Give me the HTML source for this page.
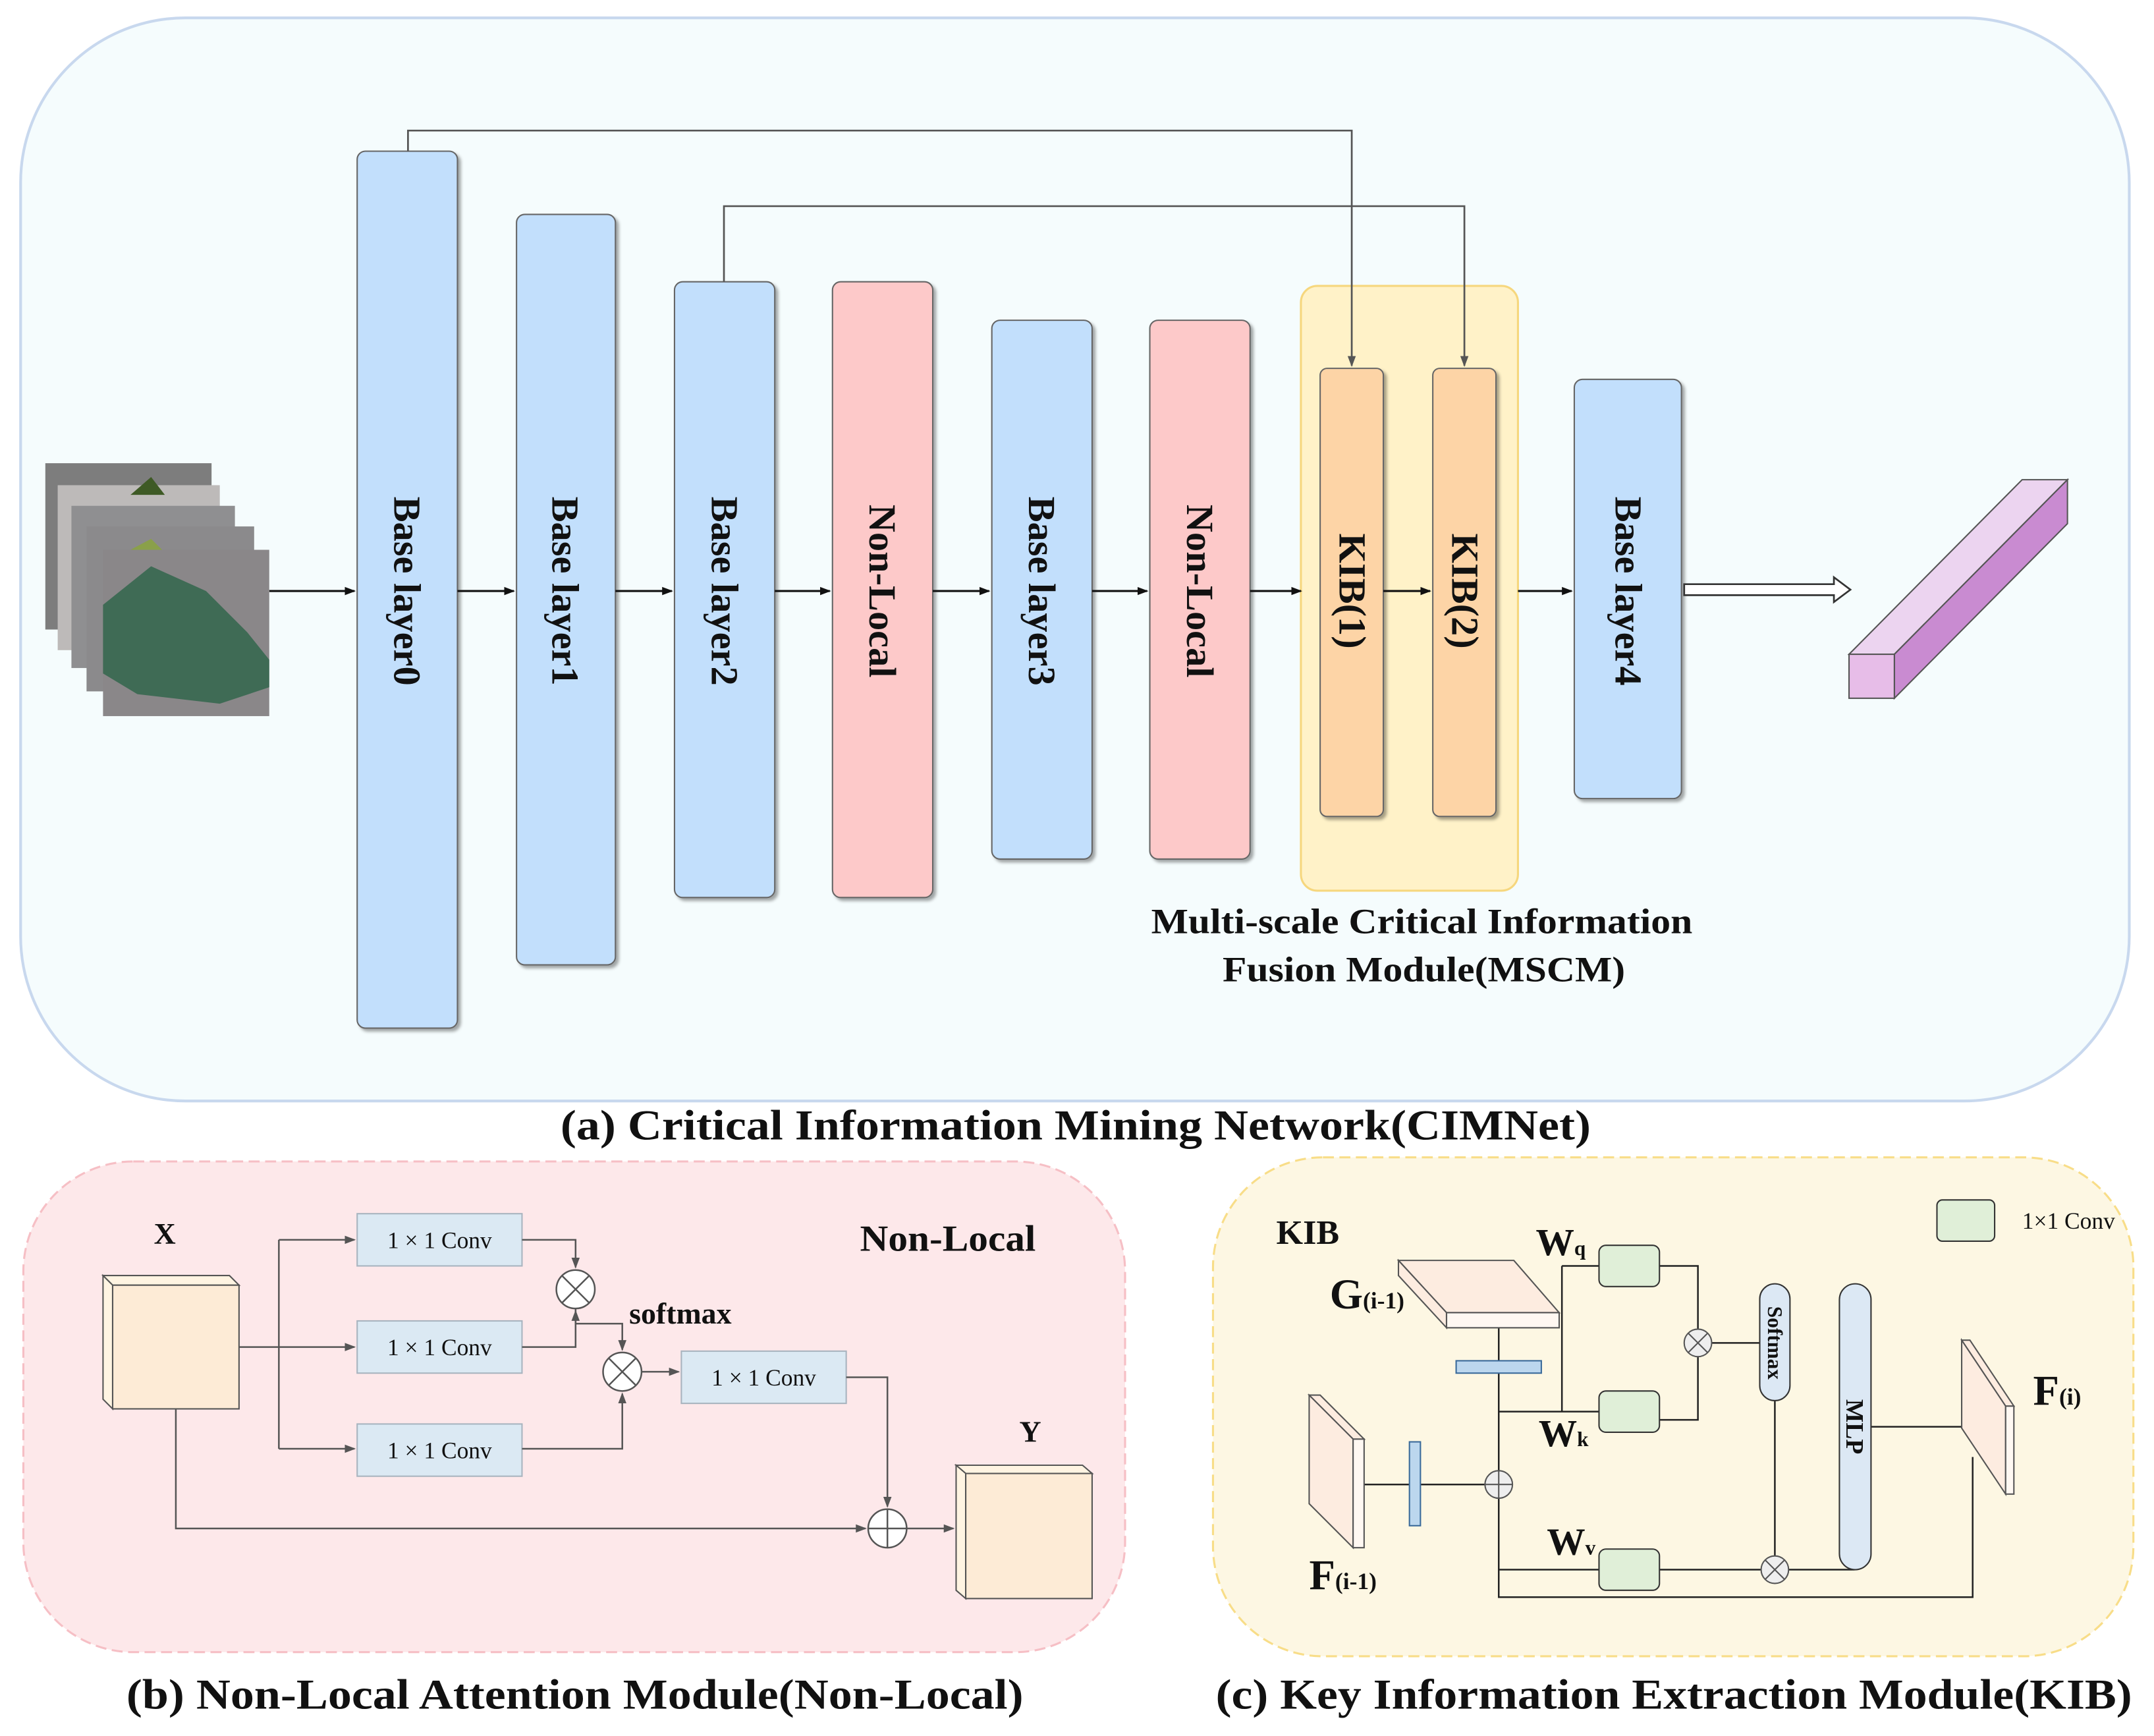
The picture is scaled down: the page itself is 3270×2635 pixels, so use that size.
<!DOCTYPE html>
<html><head><meta charset="utf-8"><style>
html,body{margin:0;padding:0;background:#fff}
svg{display:block}
text{font-family:"Liberation Serif",serif;font-weight:bold;fill:#111}
</style></head><body>
<svg width="3270" height="2635" viewBox="0 0 1568 1263" preserveAspectRatio="none" xmlns="http://www.w3.org/2000/svg">
<defs>
<marker id="a" markerWidth="8" markerHeight="8" refX="7" refY="4" orient="auto" markerUnits="userSpaceOnUse"><path d="M0,1 L8,4 L0,7 Z" fill="#111"/></marker>
<marker id="g" markerWidth="8" markerHeight="8" refX="7" refY="4" orient="auto" markerUnits="userSpaceOnUse"><path d="M0,1 L8,4 L0,7 Z" fill="#555"/></marker>
<filter id="sh"><feDropShadow dx="2" dy="2" stdDeviation="1.2" flood-color="#000" flood-opacity="0.35"/></filter>
</defs>
<!-- Panel a -->
<rect x="15" y="13" width="1535" height="788" rx="120" fill="#f5fcfd" stroke="#c8d8ee" stroke-width="2"/>
<rect x="947" y="208" width="158" height="440" rx="12" fill="#fff2c8" stroke="#f6d77e" stroke-width="1.5"/>
<g filter="url(#sh)" stroke="#666" stroke-width="1">
<rect x="260" y="110" width="73" height="638" rx="6" fill="#c2dffc"/>
<rect x="376" y="156" width="72" height="546" rx="6" fill="#c2dffc"/>
<rect x="491" y="205" width="73" height="448" rx="6" fill="#c2dffc"/>
<rect x="606" y="205" width="73" height="448" rx="6" fill="#fdc9c9"/>
<rect x="722" y="233" width="73" height="392" rx="6" fill="#c2dffc"/>
<rect x="837" y="233" width="73" height="392" rx="6" fill="#fdc9c9"/>
<rect x="961" y="268" width="46" height="326" rx="5" fill="#fdd4a6"/>
<rect x="1043" y="268" width="46" height="326" rx="5" fill="#fdd4a6"/>
<rect x="1146" y="276" width="78" height="305" rx="6" fill="#c2dffc"/>
</g>
<g font-size="28">
<text transform="translate(287,430) rotate(90)" text-anchor="middle">Base layer0</text>
<text transform="translate(402,430) rotate(90)" text-anchor="middle">Base layer1</text>
<text transform="translate(518,430) rotate(90)" text-anchor="middle">Base layer2</text>
<text transform="translate(633,430) rotate(90)" text-anchor="middle">Non-Local</text>
<text transform="translate(749,430) rotate(90)" text-anchor="middle">Base layer3</text>
<text transform="translate(864,430) rotate(90)" text-anchor="middle">Non-Local</text>
<text transform="translate(975,430) rotate(90)" text-anchor="middle">KIB(1)</text>
<text transform="translate(1057,430) rotate(90)" text-anchor="middle">KIB(2)</text>
<text transform="translate(1176,430) rotate(90)" text-anchor="middle">Base layer4</text>
</g>
<g fill="none" stroke="#555" stroke-width="1.3">
<path d="M297,110 V95 H984 V266" marker-end="url(#g)"/>
<path d="M527,205 V150 H1066 V266" marker-end="url(#g)"/>
</g>
<g stroke="#111" stroke-width="1.5" marker-end="url(#a)">
<line x1="196" y1="430" x2="258" y2="430"/>
<line x1="333" y1="430" x2="374" y2="430"/>
<line x1="448" y1="430" x2="489" y2="430"/>
<line x1="564" y1="430" x2="604" y2="430"/>
<line x1="679" y1="430" x2="720" y2="430"/>
<line x1="795" y1="430" x2="835" y2="430"/>
<line x1="910" y1="430" x2="947" y2="430"/>
<line x1="1007" y1="430" x2="1041" y2="430"/>
<line x1="1105" y1="430" x2="1144" y2="430"/>
</g>
<rect x="33" y="337" width="121" height="121" fill="#7d7d7d"/>
<rect x="42" y="353" width="118" height="120" fill="#bdbab9"/>
<path d="M95,360 L110,347 L120,360 Z" fill="#3e5a25"/>
<rect x="52" y="368" width="119" height="118" fill="#8f8f91"/>
<rect x="63" y="383" width="122" height="120" fill="#8b8a8c"/>
<path d="M95,400 L110,392 L120,402 Z" fill="#8aa04a"/>
<rect x="75" y="400" width="121" height="121" fill="#8a8789"/>
<path d="M75,440 L110,412 L150,430 L180,460 L196,480 L196,500 L160,512 L100,505 L75,490 Z" fill="#3f6b55"/>
<path d="M1226,425 H1335 V420 L1347,429 L1335,438 V433 H1226 Z" fill="#fff" stroke="#333" stroke-width="1.3"/>
<polygon points="1346,476 1379,476 1505,349 1472,349" fill="#ecd4f0" stroke="#555" stroke-width="1"/>
<polygon points="1379,476 1379,508 1505,381 1505,349" fill="#c98bd1" stroke="#555" stroke-width="1"/>
<rect x="1346" y="476" width="33" height="32" fill="#e7bde8" stroke="#555" stroke-width="1"/>
<text x="838" y="679" font-size="26" textLength="394" lengthAdjust="spacingAndGlyphs">Multi-scale Critical Information</text>
<text x="890" y="714" font-size="26" textLength="293" lengthAdjust="spacingAndGlyphs">Fusion Module(MSCM)</text>
<text x="408" y="829" font-size="31" textLength="750" lengthAdjust="spacingAndGlyphs">(a) Critical Information Mining Network(CIMNet)</text>

<!-- Panel b -->
<rect x="17" y="845" width="802" height="357" rx="80" fill="#fde8ea" stroke="#f6bfc5" stroke-width="1.5" stroke-dasharray="8,4"/>
<text x="120" y="905" font-size="22" text-anchor="middle">X</text>
<text x="750" y="1049" font-size="22" text-anchor="middle">Y</text>
<text x="626" y="910" font-size="27" textLength="128" lengthAdjust="spacingAndGlyphs">Non-Local</text>
<g stroke="#555" stroke-width="1">
<polygon points="75,928 167,928 174,935 82,935" fill="#fff4e2"/>
<polygon points="75,928 82,935 82,1025 75,1018" fill="#fff4e2"/>
<rect x="82" y="935" width="92" height="90" fill="#fdebd6"/>
<polygon points="696,1066 788,1066 795,1072 703,1072" fill="#fff4e2"/>
<polygon points="696,1066 703,1072 703,1163 696,1157" fill="#fff4e2"/>
<rect x="703" y="1072" width="92" height="91" fill="#fdebd6"/>
</g>
<g fill="#dbe9f3" stroke="#a8b4bf" stroke-width="1">
<rect x="260" y="883" width="120" height="38"/>
<rect x="260" y="961" width="120" height="38"/>
<rect x="260" y="1036" width="120" height="38"/>
<rect x="496" y="983" width="120" height="38"/>
</g>
<g font-size="17" text-anchor="middle">
<text x="320" y="908" style="font-weight:normal">1 × 1 Conv</text>
<text x="320" y="986" style="font-weight:normal">1 × 1 Conv</text>
<text x="320" y="1061" style="font-weight:normal">1 × 1 Conv</text>
<text x="556" y="1008" style="font-weight:normal">1 × 1 Conv</text>
</g>
<text x="458" y="963" font-size="22">softmax</text>
<g fill="none" stroke="#555" stroke-width="1.2">
<path d="M174,980 H203"/>
<path d="M203,902 V1054"/>
<path d="M203,902 H258" marker-end="url(#g)"/>
<path d="M203,980 H258" marker-end="url(#g)"/>
<path d="M203,1054 H258" marker-end="url(#g)"/>
<path d="M380,902 H419 V922" marker-end="url(#g)"/>
<path d="M380,980 H419 V954" marker-end="url(#g)"/>
<path d="M419,952 V963 H453 V982" marker-end="url(#g)"/>
<path d="M380,1054 H453 V1014" marker-end="url(#g)"/>
<path d="M467,998 H494" marker-end="url(#g)"/>
<path d="M616,1002 H646 V1096" marker-end="url(#g)"/>
<path d="M128,1025 V1112 H630" marker-end="url(#g)"/>
<path d="M660,1112 H694" marker-end="url(#g)"/>
</g>
<g fill="#fff" stroke="#555" stroke-width="1.2">
<circle cx="419" cy="938" r="14"/><path d="M409,928 L429,948 M429,928 L409,948"/>
<circle cx="453" cy="998" r="14"/><path d="M443,988 L463,1008 M463,988 L443,1008"/>
<circle cx="646" cy="1112" r="14"/><path d="M632,1112 H660 M646,1098 V1126"/>
</g>
<text x="92" y="1243" font-size="31" textLength="653" lengthAdjust="spacingAndGlyphs">(b) Non-Local Attention Module(Non-Local)</text>

<!-- Panel c -->
<rect x="883" y="842" width="670" height="363" rx="80" fill="#fdf7e3" stroke="#f8dd88" stroke-width="1.5" stroke-dasharray="8,4"/>
<text x="952" y="905" font-size="25" text-anchor="middle">KIB</text>
<rect x="1410" y="873" width="42" height="30" rx="4" fill="#e0efd8" stroke="#333" stroke-width="1"/>
<text x="1472" y="894" font-size="17" style="font-weight:normal">1×1 Conv</text>
<g fill="none" stroke="#222" stroke-width="1.2">
<path d="M1091,966 V1162 H1436 V1060"/>
<path d="M993,1080 H1081"/>
<path d="M1091,1027 H1164"/>
<path d="M1137,921 V1027 M1137,921 H1164"/>
<path d="M1208,921 H1236 V1033 H1208"/>
<path d="M1246,977 H1281"/>
<path d="M1292,1019 V1132"/>
<path d="M1091,1142 H1164 M1208,1142 H1282 M1302,1142 H1350"/>
<path d="M1362,1038 H1428"/>
</g>
<g stroke="#555" stroke-width="1">
<polygon points="1018,917 1102,917 1135,955 1053,955" fill="#fdece0"/>
<polygon points="1018,917 1053,955 1053,966 1018,928" fill="#fdece0"/>
<rect x="1053" y="955" width="82" height="11" fill="#fff8f2"/>
<polygon points="953,1015 961,1015 993,1047 985,1047" fill="#fdece0"/>
<polygon points="953,1015 985,1047 985,1126 953,1094" fill="#fdece0"/>
<rect x="985" y="1047" width="8" height="79" fill="#fff8f2"/>
<polygon points="1428,975 1434,975 1466,1023 1460,1023" fill="#fdece0"/>
<polygon points="1428,975 1460,1023 1460,1087 1428,1039" fill="#fdece0"/>
<rect x="1460" y="1023" width="6" height="64" fill="#fff8f2"/>
</g>
<rect x="1060" y="990" width="62" height="9" fill="#bcd7ee" stroke="#3a6a9a" stroke-width="1"/>
<rect x="1026" y="1049" width="8" height="61" fill="#bcd7ee" stroke="#3a6a9a" stroke-width="1"/>
<g fill="#e0efd8" stroke="#333" stroke-width="1">
<rect x="1164" y="906" width="44" height="30" rx="5"/>
<rect x="1164" y="1012" width="44" height="30" rx="5"/>
<rect x="1164" y="1127" width="44" height="30" rx="5"/>
</g>
<rect x="1281" y="934" width="22" height="85" rx="11" fill="#dce8f4" stroke="#333" stroke-width="1"/>
<rect x="1339" y="934" width="23" height="208" rx="11.5" fill="#dce8f4" stroke="#333" stroke-width="1"/>
<text transform="translate(1287,977) rotate(90)" font-size="15" text-anchor="middle">Softmax</text>
<text transform="translate(1344,1038) rotate(90)" font-size="18" text-anchor="middle">MLP</text>
<g fill="#eee" stroke="#555" stroke-width="1">
<circle cx="1236" cy="977" r="10"/><path d="M1229,970 L1243,984 M1243,970 L1229,984"/>
<circle cx="1292" cy="1142" r="10"/><path d="M1285,1135 L1299,1149 M1299,1135 L1285,1149"/>
<circle cx="1091" cy="1080" r="10"/><path d="M1081,1080 H1101 M1091,1070 V1090"/>
</g>
<text x="968" y="952" font-size="31">G<tspan font-size="17">(i-1)</tspan></text>
<text x="953" y="1156" font-size="31">F<tspan font-size="17">(i-1)</tspan></text>
<text x="1480" y="1022" font-size="31">F<tspan font-size="17">(i)</tspan></text>
<text x="1118" y="913" font-size="28">W<tspan font-size="15">q</tspan></text>
<text x="1120" y="1052" font-size="28">W<tspan font-size="15">k</tspan></text>
<text x="1126" y="1131" font-size="28">W<tspan font-size="15">v</tspan></text>
<text x="885" y="1243" font-size="31" textLength="667" lengthAdjust="spacingAndGlyphs">(c) Key Information Extraction Module(KIB)</text>
</svg>
</body></html>
